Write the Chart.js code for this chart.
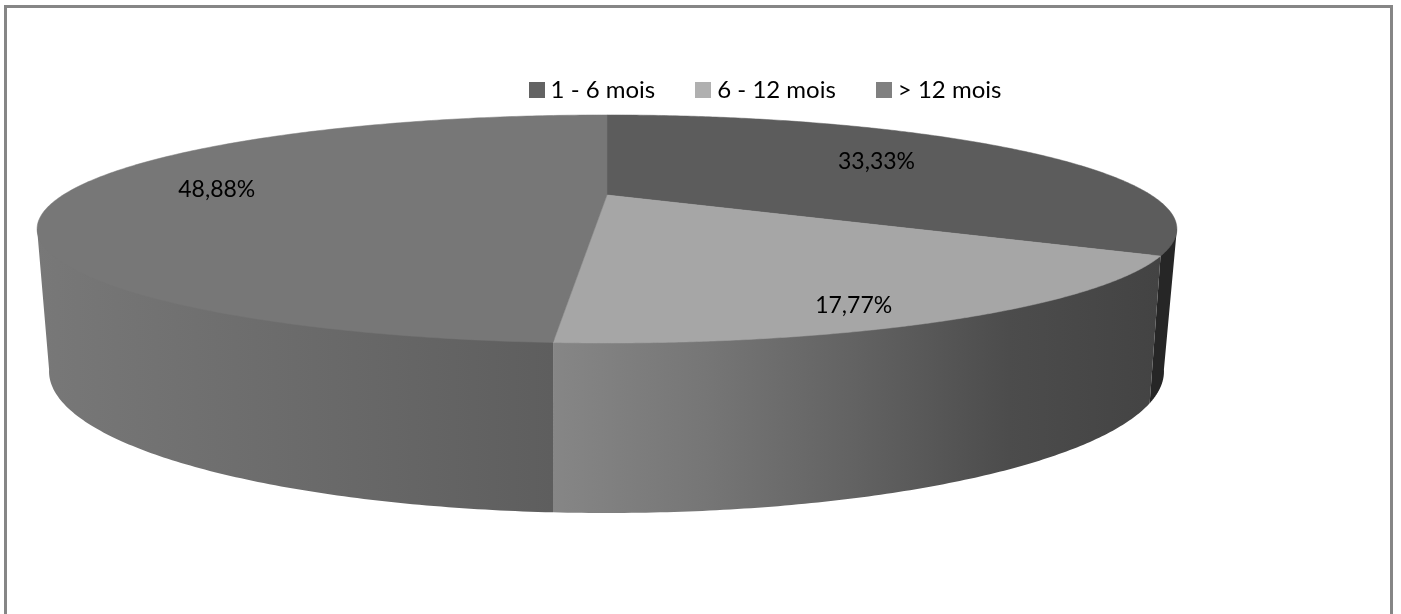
<!DOCTYPE html>
<html>
<head>
<meta charset="utf-8">
<style>
html,body{margin:0;padding:0;background:#fff;}
#wrap{width:1401px;height:614px;position:relative;}
</style>
<script src="https://cdn.jsdelivr.net/npm/chart.js@4"></script>
</head>
<body>
<div id="wrap"><canvas id="c" width="1401" height="614"></canvas></div>
<script>
const categories = ['1 - 6 mois', '6 - 12 mois', '> 12 mois'];
const shares = [33.33, 17.77, 48.88];
const legendColors = ['#636363', '#b0b0b0', '#808080'];
const faceColors = ['#5c5c5c', '#a6a6a6', '#777777'];

// Horizontal shading of the outer wall of each slice, evenly spaced stops from left to right.
const wallShades = [
  ['#262626', '#262626'],
  ['#868686', '#767676', '#626262', '#4c4c4c', '#434343'],
  ['#787878', '#5e5e5e']
];

const font = 'Lato, Carlito, sans-serif';

// Perspective projection of the unit disc onto the two faces of the drum.
const topFace = {cx: 607, y0: 195, A: 544, B: 103.9, k: -0.298};
const bottomFace = {cx: 606.5, y0: 327.5, A: 530, B: 128, k: -0.31};
const project = (f, a, r = 1) => {
  const u = r * Math.cos(a), v = r * Math.sin(a), w = 1 + f.k * v;
  return [f.cx + f.A * u / w, f.y0 + f.B * v / w];
};
const tracePath = (ctx, pts) => {
  ctx.beginPath();
  pts.forEach((p, i) => i ? ctx.lineTo(p[0], p[1]) : ctx.moveTo(p[0], p[1]));
  ctx.closePath();
};
const sweep = (a0, a1, n = 120) => {
  const out = [];
  for (let i = 0; i <= n; i++) out.push(a0 + (a1 - a0) * i / n);
  return out;
};

// Wall is only seen between the two silhouette tangents of the top rim.
const wallFrom = Math.asin(-topFace.k);
const wallTo = Math.PI - wallFrom;

const labelPlacement = {radius: [0.652, 0.88, 0.73], turn: [-0.05, 0.087, 0.035]};

const drum = {
  id: 'drum',
  beforeDraw(chart) {
    const {ctx} = chart;
    ctx.save();
    ctx.strokeStyle = '#868686';
    ctx.lineWidth = 3;
    ctx.beginPath();
    ctx.moveTo(5.5, 620);
    ctx.lineTo(5.5, 6.5);
    ctx.lineTo(1391.5, 6.5);
    ctx.lineTo(1391.5, 620);
    ctx.stroke();
    ctx.restore();
  },
  beforeDatasetsDraw(chart) {
    const {ctx} = chart;
    const arcs = chart.getDatasetMeta(0).data;
    ctx.save();
    // outer walls; the upper edge runs slightly under the top face to avoid a seam
    arcs.forEach((arc, i) => {
      const a0 = Math.max(arc.startAngle, wallFrom);
      const a1 = Math.min(arc.endAngle, wallTo);
      if (a1 <= a0) return;
      const angles = sweep(a0, a1);
      const upper = angles.map(a => project(topFace, a, 0.985));
      const lower = angles.slice().reverse().map(a => project(bottomFace, a));
      const xs = angles.map(a => project(topFace, a)[0]).concat(lower.map(p => p[0]));
      const g = ctx.createLinearGradient(Math.min(...xs), 0, Math.max(...xs), 0);
      wallShades[i].forEach((c, n, all) => g.addColorStop(n / (all.length - 1), c));
      // the silhouette edge of the wall stays on the rim itself
      const outline = [project(topFace, a0)].concat(upper, [project(topFace, a1)], lower);
      tracePath(ctx, outline);
      ctx.fillStyle = g;
      ctx.fill();
    });
    // top face
    arcs.forEach((arc, i) => {
      const pts = [project(topFace, 0, 0)].concat(
        sweep(arc.startAngle, arc.endAngle, 240).map(a => project(topFace, a)));
      tracePath(ctx, pts);
      ctx.fillStyle = faceColors[i];
      ctx.fill();
      ctx.strokeStyle = faceColors[i];
      ctx.lineWidth = 0.5;
      ctx.stroke();
    });
    // value labels on the top face
    ctx.font = '23px ' + font;
    ctx.fillStyle = '#000';
    ctx.textAlign = 'center';
    ctx.textBaseline = 'middle';
    arcs.forEach((arc, i) => {
      const mid = (arc.startAngle + arc.endAngle) / 2 + labelPlacement.turn[i];
      const [x, y] = project(topFace, mid, labelPlacement.radius[i]);
      ctx.fillText(shares[i].toFixed(2).replace('.', ',') + '%', x, y);
    });
    ctx.restore();
    return false;
  }
};

const swatch = color => {
  const s = document.createElement('canvas');
  s.width = 16; s.height = 16;
  const c = s.getContext('2d');
  c.fillStyle = color;
  c.fillRect(0, 0, 16, 16);
  return s;
};

new Chart(document.getElementById('c'), {
  type: 'pie',
  data: {
    labels: categories,
    datasets: [{data: shares, backgroundColor: faceColors, borderWidth: 0}]
  },
  plugins: [drum],
  options: {
    responsive: false,
    animation: false,
    events: [],
    layout: {padding: {left: 135, top: 32}},
    plugins: {
      tooltip: {enabled: false},
      title: {display: false},
      legend: {
        position: 'top',
        labels: {
          usePointStyle: true,
          boxWidth: 4,
          padding: 46,
          color: '#000',
          font: {family: font, size: 24},
          generateLabels(chart) {
            return Chart.overrides.pie.plugins.legend.labels.generateLabels(chart)
              .map((item, i) => ({...item, pointStyle: swatch(legendColors[i])}));
          }
        }
      }
    }
  }
});
</script>
</body>
</html>
